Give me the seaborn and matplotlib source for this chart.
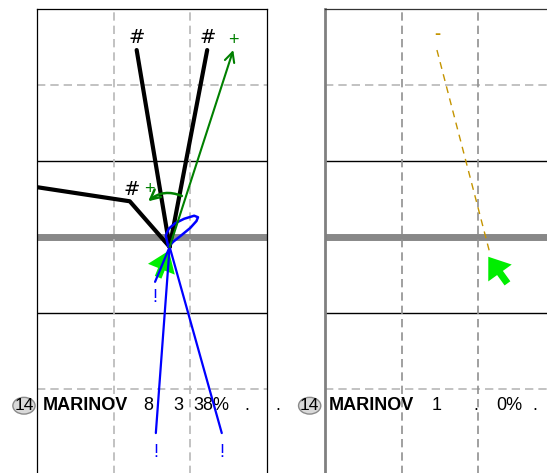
import pandas as pd
import matplotlib
matplotlib.use("Agg")
import matplotlib.pyplot as plt
from matplotlib.patches import Ellipse
import seaborn as sns

sns.set_theme(style="white")
plt.rcParams['font.family'] = ['Liberation Sans', 'DejaVu Sans']
plt.rcParams['text.color'] = 'black'

# shot origin (left panel)
origin_x = 1.73
origin_y = 2.87

# black shots (#) - end points, third one has a bend
black_x = [[1.30], [2.22], [1.21, -0.29]]
black_y = [[5.46], [5.46], [3.47, 3.70]]
black_lbl_x = [1.30, 2.22, 1.23]
black_lbl_y = [5.62, 5.62, 3.62]

# blue shots (!)
blue_x = [1.55, 2.41, 1.54]
blue_y = [0.42, 0.42, 2.41]
blue_lbl_y = [0.17, 0.17, 2.20]

# blue loop
loop_x = [1.71, 1.68, 1.72, 1.80, 1.92, 2.05, 2.10, 2.08, 2.00, 1.88, 1.78, 1.72]
loop_y = [2.88, 3.02, 3.11, 3.18, 3.24, 3.28, 3.26, 3.21, 3.12, 3.02, 2.94, 2.88]

# green arrows (+)
green_end = (2.56, 5.46)
green_curve_start = (1.89, 3.54)
green_curve_end = (1.45, 3.47)
green_lbl = [(2.56, 5.59), (1.46, 3.63)]

# lime arrows
lime_left = [(1.58, 2.47), (1.72, 2.82)]
lime_right = [(2.38, 2.39), (2.13, 2.74)]

# dashed shot right panel
gold_x = [1.46, 2.15]
gold_y = [5.46, 2.79]

# stat rows
left_stats = ['8', '3', '38%', '.', '.']
left_stat_x = [1.45, 1.84, 2.28, 2.74, 3.14]
right_stats = ['1', '.', '0%', '.']
right_stat_x = [1.45, 1.97, 2.40, 2.74]
player = 'MARINOV'
number = '14'

W, H = 547, 473
fig = plt.figure(figsize=(W / 100, H / 100), dpi=100)
unit_y = 76.0
ymin, ymax = -1, 6
ax_h = (ymax - ymin) * unit_y
bottom = (H - (9 + ax_h)) / H

axL = fig.add_axes([37 / W, bottom, 230 / W, ax_h / H])
axR = fig.add_axes([325 / W, bottom, 230 / W, ax_h / H])

for ax in (axL, axR):
    ax.set_xlim(0, 3)
    ax.set_ylim(ymin, ymax)
    ax.set_xticks([])
    ax.set_yticks([])
    ax.set_facecolor('white')
    for y in (1, 5):
        ax.axhline(y, color='#b8b8b8', lw=1.2, ls=(0, (5, 3)), zorder=1)
    for y in (2, 4):
        ax.axhline(y, color='black', lw=1, zorder=1)
    ax.axhline(3, color='#888888', lw=5, zorder=1)
    ax.spines['bottom'].set_visible(False)
    for s in ('top', 'left', 'right'):
        ax.spines[s].set_color('black')
        ax.spines[s].set_linewidth(0.9)

for x in (1, 2):
    axL.axvline(x, color='#b8b8b8', lw=1.2, ls=(0, (5, 3)), zorder=1)
    axR.axvline(x, color='#909090', lw=1.2, ls=(0, (5, 3)), zorder=1)
axR.spines['left'].set_color('#808080')
axR.spines['left'].set_linewidth(2)
axR.spines['top'].set_color('#333333')

# black shots through seaborn
rows = []
for i, (xs, ys) in enumerate(zip(black_x, black_y)):
    pts_x = [origin_x] + xs
    pts_y = [origin_y] + ys
    for j, (px, py) in enumerate(zip(pts_x, pts_y)):
        rows.append({'shot': i, 'order': j, 'x': px, 'y': py})
df_black = pd.DataFrame(rows)
sns.lineplot(data=df_black, x='x', y='y', units='shot', estimator=None, sort=False,
             color='black', lw=3, ax=axL, zorder=4)
for bx, by in zip(black_lbl_x, black_lbl_y):
    axL.text(bx, by, '#', color='black', fontsize=14, ha='center', va='center',
             family='DejaVu Sans', zorder=6)

# blue shots
rows = []
for i, (bx, by) in enumerate(zip(blue_x, blue_y)):
    rows.append({'shot': i, 'x': origin_x, 'y': origin_y})
    rows.append({'shot': i, 'x': bx, 'y': by})
df_blue = pd.DataFrame(rows)
sns.lineplot(data=df_blue, x='x', y='y', units='shot', estimator=None, sort=False,
             color='#0000ff', lw=1.6, ax=axL, zorder=5)
for bx, by in zip(blue_x, blue_lbl_y):
    axL.text(bx, by, '!', color='#0000ff', fontsize=13, ha='center', va='center', zorder=6)
df_loop = pd.DataFrame({'x': loop_x, 'y': loop_y})
sns.lineplot(data=df_loop, x='x', y='y', estimator=None, sort=False,
             color='#0000ff', lw=1.8, ax=axL, zorder=5)

# green arrows
axL.annotate('', xy=green_end, xytext=(origin_x, origin_y),
             arrowprops=dict(arrowstyle='->,head_length=0.5,head_width=0.25', color='green',
                             lw=1.5, mutation_scale=14, shrinkA=0, shrinkB=0), zorder=5)
axL.annotate('', xy=green_curve_end, xytext=green_curve_start,
             arrowprops=dict(arrowstyle='->,head_length=0.5,head_width=0.25', color='green',
                             lw=1.8, mutation_scale=14, shrinkA=0, shrinkB=0,
                             connectionstyle='arc3,rad=0.3'), zorder=5)
for gx, gy in green_lbl:
    axL.text(gx, gy, '+', color='green', fontsize=13, ha='center', va='center', zorder=6)

# lime arrows
lime_props = dict(arrowstyle='simple,head_length=0.9,head_width=1.3,tail_width=0.32',
                  color='#00ee00', lw=0, mutation_scale=16, shrinkA=0, shrinkB=0)
axL.annotate('', xy=lime_left[1], xytext=lime_left[0], arrowprops=lime_props, zorder=3)
axR.annotate('', xy=lime_right[1], xytext=lime_right[0], arrowprops=lime_props, zorder=5)

# dashed shot right
df_gold = pd.DataFrame({'x': gold_x, 'y': gold_y})
sns.lineplot(data=df_gold, x='x', y='y', estimator=None, sort=False, color='#c49400',
             lw=1, ls=(0, (5, 4)), ax=axR, zorder=4)
axR.text(gold_x[0], 5.66, '-', color='#c49400', fontsize=13, ha='center', va='center',
         fontweight='bold', zorder=6)

# stat rows
row_y = 0.78
for ax, stats, sx, cx in ((axL, left_stats, left_stat_x, -0.17), (axR, right_stats, right_stat_x, -0.20)):
    ax.add_patch(Ellipse((cx, row_y), 0.29, 0.22, facecolor='#d9d9d9', edgecolor='#8a8a8a',
                         lw=1, clip_on=False, zorder=6))
    ax.text(cx, row_y, number, fontsize=12.5, ha='center', va='center', clip_on=False,
            color='black', zorder=7)
    ax.text(cx + 0.25, row_y, player, fontsize=13, fontweight='bold', ha='left', va='center',
            clip_on=False, color='black', zorder=4)
    for s, x in zip(stats, sx):
        ax.text(x, row_y, s, fontsize=13, ha='center', va='center', clip_on=False,
                color='black', zorder=4)

for ax in (axL, axR):
    ax.set_xlabel('')
    ax.set_ylabel('')
    leg = ax.get_legend()
    if leg is not None:
        leg.remove()

fig.savefig('out.png', dpi=100)
